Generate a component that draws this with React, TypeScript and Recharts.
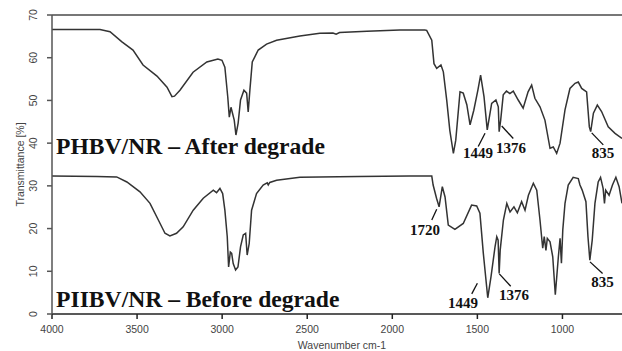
import {
  Label, Line, LineChart, ReferenceDot, ReferenceLine, XAxis, YAxis,
} from 'recharts';

// FTIR spectrum, PHBV/NR after degradation (upper trace)
const afterWave = [
  4000, 3800, 3718, 3659, 3589, 3524, 3465, 3383, 3324, 3295, 3280, 3248, 3171, 3090, 3025,
  3001, 2984, 2967, 2958, 2948, 2941, 2929, 2919, 2906, 2892, 2872, 2856, 2847, 2837, 2823,
  2788, 2739, 2680, 2543, 2426, 2349, 2330, 2310, 2149, 1956, 1809, 1798, 1768, 1755, 1739,
  1714, 1700, 1680, 1662, 1641, 1627, 1602, 1583, 1562, 1543, 1521, 1497, 1481, 1461, 1442,
  1416, 1391, 1377, 1372, 1363, 1348, 1329, 1309, 1289, 1260, 1231, 1202, 1181, 1162, 1132,
  1103, 1073, 1054, 1034, 1014, 985, 956, 926, 907, 887, 858, 842, 834, 818, 795,
  770, 731, 691, 650,
];
const afterT = [
  66.6, 66.6, 66.6, 66.1, 63.7, 61.8, 58.3, 55.7, 53.1, 50.9, 51.0, 52.4, 56.6, 59.0, 59.7,
  59.4, 57.8, 50.8, 46.1, 48.4, 47.3, 45.4, 41.9, 44.7, 50.1, 52.4, 51.7, 47.3, 52.4, 59.0,
  61.8, 63.2, 64.1, 65.1, 65.7, 65.8, 65.5, 65.9, 66.2, 66.5, 66.5, 66.4, 64.1, 58.6, 57.5,
  58.3, 56.7, 50.0, 43.0, 37.6, 40.7, 52.0, 51.7, 49.0, 44.3, 47.7, 52.4, 55.9, 50.9, 43.1,
  49.3, 50.1, 48.5, 42.7, 45.4, 51.3, 52.2, 51.6, 52.2, 50.1, 48.2, 52.0, 53.6, 50.5, 48.5,
  45.4, 38.8, 39.1, 37.6, 40.0, 47.8, 52.8, 54.0, 54.3, 52.8, 52.0, 43.8, 42.7, 47.0, 48.9,
  47.4, 43.8, 42.3, 41.1,
];

// PHBV/NR before degradation (lower trace)
const beforeWave = [
  4000, 3736, 3620, 3560, 3483, 3424, 3375, 3336, 3307, 3268, 3229, 3170, 3111, 3052, 3033,
  3013, 2997, 2984, 2970, 2962, 2952, 2944, 2935, 2921, 2907, 2892, 2876, 2862, 2853, 2841,
  2827, 2798, 2759, 2735, 2729, 2720, 2680, 2543, 2200, 1900, 1768, 1760, 1740, 1725, 1706,
  1690, 1671, 1632, 1583, 1534, 1504, 1485, 1465, 1439, 1420, 1396, 1386, 1378, 1372, 1366,
  1347, 1327, 1308, 1285, 1265, 1240, 1220, 1200, 1171, 1151, 1132, 1116, 1107, 1097, 1089,
  1073, 1057, 1042, 1024, 1014, 1006, 998, 985, 966, 937, 907, 897, 884, 862, 850,
  839, 825, 809, 790, 776, 761, 753, 746, 726, 706, 686, 667, 650,
];
const beforeT = [
  32.3, 32.2, 32.1, 30.9, 28.6, 25.9, 22.0, 18.9, 18.3, 18.9, 20.4, 24.3, 27.1, 29.0, 28.4,
  29.4, 28.2, 24.3, 18.1, 11.0, 14.5, 14.2, 11.8, 10.3, 11.0, 15.7, 18.5, 18.9, 13.8, 16.5,
  24.3, 28.2, 30.2, 30.7, 30.2, 30.8, 31.3, 32.0, 32.2, 32.3, 32.3, 30.2, 27.1, 25.1, 29.8,
  27.4, 20.8, 19.8, 21.2, 25.5, 25.3, 23.6, 14.2, 3.8, 8.7, 15.8, 18.1, 17.3, 9.5, 14.9,
  22.0, 25.9, 23.9, 25.1, 23.7, 26.3, 24.3, 27.8, 30.6, 29.0, 22.0, 15.4, 18.1, 14.9, 17.7,
  16.9, 13.4, 4.5, 13.4, 17.7, 11.9, 19.7, 25.9, 30.2, 32.0, 31.7, 30.2, 29.0, 26.3, 18.1,
  12.6, 17.3, 25.9, 30.9, 32.0, 29.4, 25.9, 29.0, 27.8, 30.2, 32.0, 29.8, 25.9,
];

const xTicks = [4000, 3500, 3000, 2500, 2000, 1500, 1000];
const yTicks = [0, 10, 20, 30, 40, 50, 60, 70];

// annotation text anchors (wavenumber, transmittance)
const titles = [
  { text: 'PHBV/NR – After degrade', w: 3976, t: 37.5 },
  { text: 'PIIBV/NR – Before degrade', w: 3976, t: 1.57 },
];
const peakLabels = [
  { text: '1449', w: 1496, t: 36.45 },
  { text: '1376', w: 1302, t: 37.6 },
  { text: '835', w: 762, t: 36.45 },
  { text: '1720', w: 1808, t: 18.5 },
  { text: '1449', w: 1585, t: 1.33 },
  { text: '1376', w: 1285, t: 3.28 },
  { text: '835', w: 765, t: 6.25 },
];
const leaders = [
  [1455, 42.3, 1495, 39.2],
  [1357, 44.0, 1289, 41.1],
  [828, 42.4, 760, 39.6],
  [1739, 24.5, 1768, 22.0],
  [1500, 7.2, 1533, 4.7],
  [1371, 9.4, 1304, 6.5],
  [838, 12.2, 764, 9.5],
];

const afterData = afterWave.map((w, i) => ({ w, t: afterT[i] }));
const beforeData = beforeWave.map((w, i) => ({ w, t: beforeT[i] }));

const sans = "'Liberation Sans', Arial, sans-serif";
const serif = "'Liberation Serif', 'Times New Roman', serif";

export default function App() {
  return (
    <div style={{ position: 'absolute', left: 0, top: 0, width: 622, height: 351, background: '#fff' }}>
      <LineChart width={622} height={351} margin={{ top: 15, right: 0, bottom: 0, left: 0 }}>
        <XAxis type="number" dataKey="w" domain={[650, 4000]} reversed allowDataOverflow
          ticks={xTicks} interval={0} height={37} tickSize={5} tickMargin={7}
          stroke="#222" strokeWidth={1.5}
          tick={{ fontSize: 10.5, fill: '#444', fontFamily: sans }}>
          <Label value="Wavenumber cm-1" position="insideBottom" offset={2} dx={5}
            fontSize={10.5} fill="#444" fontFamily={sans} />
        </XAxis>
        <YAxis type="number" domain={[0, 70]} ticks={yTicks} interval={0} width={52}
          tickSize={5} tickMargin={14} stroke="#555" strokeWidth={1.5}
          tick={{ angle: -90, textAnchor: 'middle', verticalAnchor: 'middle', fontSize: 10.5, fill: '#444', fontFamily: sans }}>
          <Label content={(p: any) => {
            const vb = p.viewBox;
            const cx = 24;
            const cy = vb.y + vb.height / 2;
            return (
              <text x={cx} y={cy} transform={`rotate(-90 ${cx} ${cy})`} textAnchor="middle"
                fontSize={10.5} fill="#444" fontFamily={sans}>Transmittance [%]</text>
            );
          }} />
        </YAxis>
        <ReferenceLine y={70} stroke="#777" strokeWidth={2} />
        <Line data={afterData} dataKey="t" type="linear" stroke="#333" strokeWidth={1.5}
          dot={false} isAnimationActive={false} />
        <Line data={beforeData} dataKey="t" type="linear" stroke="#333" strokeWidth={1.5}
          dot={false} isAnimationActive={false} />
        {leaders.map((l, i) => (
          <ReferenceLine key={`ld${i}`} segment={[{ x: l[0], y: l[1] }, { x: l[2], y: l[3] }]}
            stroke="#111" strokeWidth={1.3} />
        ))}
        {titles.map((t) => (
          <ReferenceDot key={t.text} x={t.w} y={t.t} r={0}
            shape={(p: any) => (
              <text x={p.cx} y={p.cy} fontSize={23.6} fontWeight="bold" fill="#111"
                fontFamily={serif}>{t.text}</text>
            )} />
        ))}
        {peakLabels.map((t, i) => (
          <ReferenceDot key={`pk${i}`} x={t.w} y={t.t} r={0}
            shape={(p: any) => (
              <text x={p.cx} y={p.cy} textAnchor="middle" fontSize={15} fontWeight="bold"
                fill="#111" fontFamily={serif}>{t.text}</text>
            )} />
        ))}
      </LineChart>
    </div>
  );
}
